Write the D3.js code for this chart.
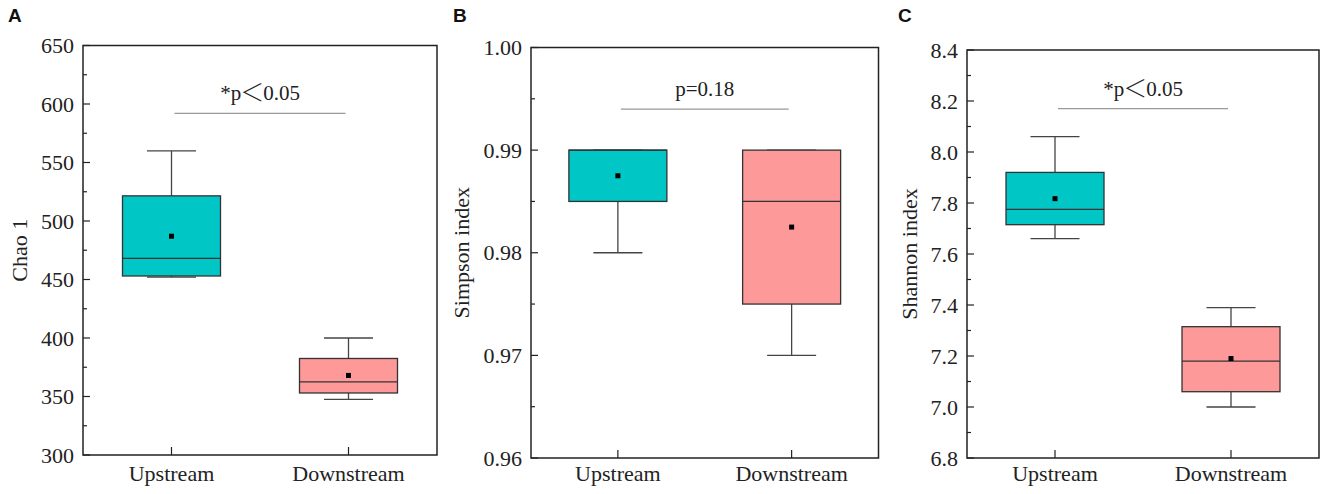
<!DOCTYPE html>
<html>
<head>
<meta charset="utf-8">
<script src="https://cdn.jsdelivr.net/npm/d3@7"></script>
<style>
  body { margin: 0; background: #fff; }
  svg { display: block; }
</style>
</head>
<body>
<svg id="chart" width="1325" height="494"></svg>
<script>
// groups on the x axis
var groups = ["Upstream", "Downstream"];

// Chao 1
var chaoLow = [452, 347.5];
var chaoQ1 = [453, 353];
var chaoMed = [468, 362.5];
var chaoQ3 = [521.5, 382.5];
var chaoHigh = [560, 400];
var chaoMean = [487, 368];
var chaoTicks = [300, 350, 400, 450, 500, 550, 600, 650];

// Simpson index
var simpLow = [0.980, 0.970];
var simpQ1 = [0.985, 0.975];
var simpMed = [0.990, 0.985];
var simpQ3 = [0.990, 0.990];
var simpHigh = [0.990, 0.990];
var simpMean = [0.9875, 0.9825];
var simpTicks = [0.96, 0.97, 0.98, 0.99, 1.00];

// Shannon index
var shanLow = [7.66, 7.00];
var shanQ1 = [7.715, 7.06];
var shanMed = [7.775, 7.18];
var shanQ3 = [7.92, 7.315];
var shanHigh = [8.06, 7.39];
var shanMean = [7.817, 7.19];
var shanTicks = [6.8, 7.0, 7.2, 7.4, 7.6, 7.8, 8.0, 8.2, 8.4];

// significance labels, split round the comparison sign
var chaoSig = ["*p", "＜", "0.05"];
var simpSig = ["p=0.18"];
var shanSig = ["*p", "＜", "0.05"];

var svg = d3.select("#chart");
var teal = "#00c6c6", pink = "#fd9999";
var serif = "Liberation Serif, Times New Roman, serif";

function panel(o) {
  var g = svg.append("g");
  var y = d3.scaleLinear().domain(o.domain).range([o.bottom, o.top]);
  var x = d3.scalePoint().domain(groups).range([o.left, o.right]).padding(0.5);
  var boxW = 98, capW = 49;

  // minor ticks at half steps
  var step = o.ticks[1] - o.ticks[0];
  var minor = [];
  for (var i = 0; i < o.ticks.length - 1; i++) minor.push(o.ticks[i] + step / 2);

  g.selectAll(".minor").data(minor).enter().append("line")
    .attr("x1", o.left).attr("x2", o.left + 4)
    .attr("y1", function(d) { return y(d); }).attr("y2", function(d) { return y(d); })
    .attr("stroke", "#222").attr("stroke-width", 1.2);
  g.selectAll(".major").data(o.ticks).enter().append("line")
    .attr("x1", o.left).attr("x2", o.left + 7)
    .attr("y1", function(d) { return y(d); }).attr("y2", function(d) { return y(d); })
    .attr("stroke", "#222").attr("stroke-width", 1.2);
  g.selectAll(".ylab").data(o.ticks).enter().append("text")
    .attr("x", o.left - 9).attr("y", function(d) { return y(d); })
    .attr("dy", "0.35em").attr("text-anchor", "end")
    .attr("font-family", serif)
    .attr("font-size", 22).attr("fill", "#222")
    .text(function(d) { return d3.format(o.fmt)(d); });

  // x ticks and labels
  g.selectAll(".xt").data(groups).enter().append("line")
    .attr("x1", function(d) { return x(d); }).attr("x2", function(d) { return x(d); })
    .attr("y1", o.bottom).attr("y2", o.bottom - 8)
    .attr("stroke", "#222").attr("stroke-width", 1.2);
  g.selectAll(".xlab").data(groups).enter().append("text")
    .attr("x", function(d) { return x(d); }).attr("y", 481)
    .attr("text-anchor", "middle")
    .attr("font-family", serif)
    .attr("font-size", 22).attr("fill", "#222")
    .text(function(d) { return d; });

  // y title
  g.append("text")
    .attr("transform", "translate(" + o.titleX + "," + ((o.top + o.bottom) / 2) + ") rotate(-90)")
    .attr("text-anchor", "middle").attr("dy", "0.35em")
    .attr("font-family", serif)
    .attr("font-size", 22).attr("fill", "#222")
    .text(o.title);

  // panel letter
  g.append("text").attr("x", o.letterX).attr("y", 22)
    .attr("font-family", "Liberation Sans, Arial, sans-serif")
    .attr("font-weight", "bold").attr("font-size", 19).attr("fill", "#111")
    .text(o.letter);

  var colors = [teal, pink];
  groups.forEach(function(gr, i) {
    var cx = x(gr);
    // whiskers
    g.append("line").attr("x1", cx).attr("x2", cx)
      .attr("y1", y(o.high[i])).attr("y2", y(o.q3[i]))
      .attr("stroke", "#444").attr("stroke-width", 1.3);
    g.append("line").attr("x1", cx).attr("x2", cx)
      .attr("y1", y(o.q1[i])).attr("y2", y(o.low[i]))
      .attr("stroke", "#444").attr("stroke-width", 1.3);
    g.append("line").attr("x1", cx - capW / 2).attr("x2", cx + capW / 2)
      .attr("y1", y(o.high[i])).attr("y2", y(o.high[i]))
      .attr("stroke", "#444").attr("stroke-width", 1.3);
    g.append("line").attr("x1", cx - capW / 2).attr("x2", cx + capW / 2)
      .attr("y1", y(o.low[i])).attr("y2", y(o.low[i]))
      .attr("stroke", "#444").attr("stroke-width", 1.3);
    // box
    g.append("rect").attr("x", cx - boxW / 2).attr("width", boxW)
      .attr("y", y(o.q3[i])).attr("height", y(o.q1[i]) - y(o.q3[i]))
      .attr("fill", colors[i]).attr("stroke", "#333").attr("stroke-width", 1.3);
    g.append("line").attr("x1", cx - boxW / 2).attr("x2", cx + boxW / 2)
      .attr("y1", y(o.med[i])).attr("y2", y(o.med[i]))
      .attr("stroke", "#333").attr("stroke-width", 1.3);
    // mean
    g.append("rect").attr("x", cx - 2.5).attr("y", y(o.mean[i]) - 2.5)
      .attr("width", 5).attr("height", 5).attr("fill", "#000");
  });

  // significance bar
  var x0 = x(groups[0]) + 3, x1 = x(groups[1]) - 3;
  g.append("line").attr("x1", x0).attr("x2", x1)
    .attr("y1", y(o.sigY)).attr("y2", y(o.sigY))
    .attr("stroke", "#999").attr("stroke-width", 1.3);
  var t = g.append("text").attr("x", (x0 + x1) / 2).attr("y", y(o.sigY) - 13)
    .attr("text-anchor", "middle")
    .attr("font-family", serif)
    .attr("font-size", 21).attr("fill", "#222");
  var after = false;
  o.sig.forEach(function(s) {
    var sp = t.append("tspan").text(s);
    if (s === "＜") {
      sp.attr("font-family", "Noto Sans CJK SC").attr("font-weight", 300)
        .attr("font-size", 24).attr("dx", -1).attr("dy", 1);
      after = true;
    } else if (after) {
      sp.attr("dx", -1).attr("dy", -1);
      after = false;
    }
  });

  // frame
  g.append("rect").attr("x", o.left).attr("y", o.top)
    .attr("width", o.right - o.left).attr("height", o.bottom - o.top)
    .attr("fill", "none").attr("stroke", "#222").attr("stroke-width", 1.5);
}

panel({ letter: "A", letterX: 8, left: 83, right: 437, top: 45.5, bottom: 455, titleX: 19,
  domain: [300, 650], ticks: chaoTicks, fmt: "d", title: "Chao 1",
  low: chaoLow, q1: chaoQ1, med: chaoMed, q3: chaoQ3, high: chaoHigh, mean: chaoMean,
  sigY: 592, sig: chaoSig });

panel({ letter: "B", letterX: 453, left: 531, right: 878.5, top: 47.5, bottom: 458, titleX: 461,
  domain: [0.96, 1.00], ticks: simpTicks, fmt: ".2f", title: "Simpson index",
  low: simpLow, q1: simpQ1, med: simpMed, q3: simpQ3, high: simpHigh, mean: simpMean,
  sigY: 0.994, sig: simpSig });

panel({ letter: "C", letterX: 898, left: 967, right: 1319, top: 50, bottom: 458, titleX: 909,
  domain: [6.8, 8.4], ticks: shanTicks, fmt: ".1f", title: "Shannon index",
  low: shanLow, q1: shanQ1, med: shanMed, q3: shanQ3, high: shanHigh, mean: shanMean,
  sigY: 8.17, sig: shanSig });
</script>
</body>
</html>
